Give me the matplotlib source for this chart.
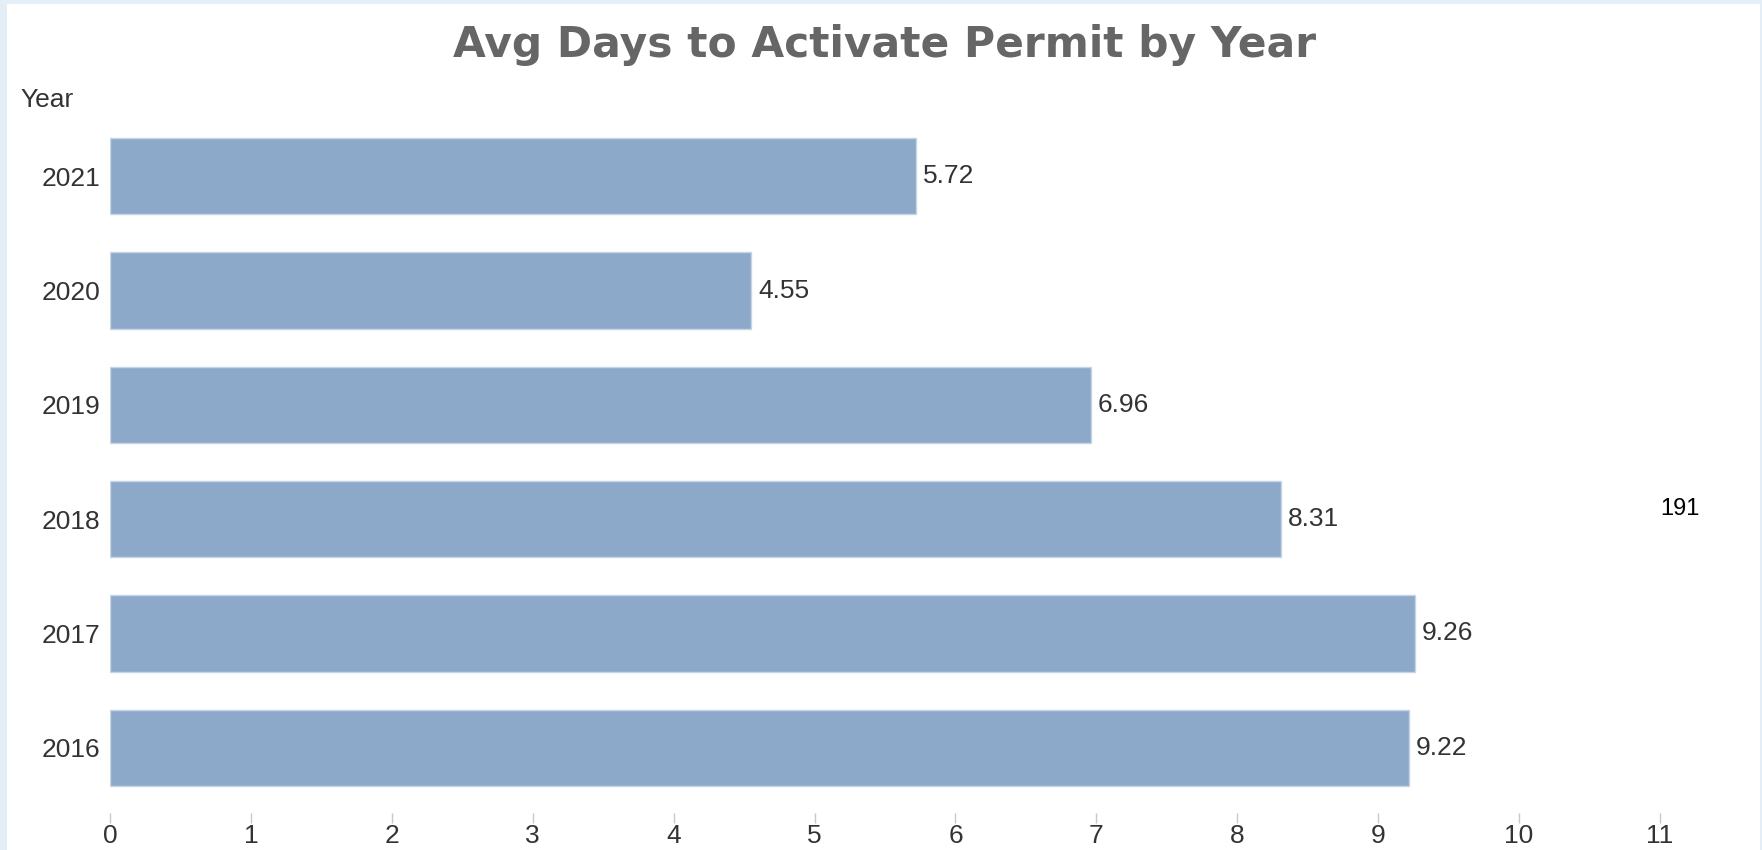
import matplotlib.pyplot as plt
from matplotlib.patches import Rectangle

# data
years = ["2016", "2017", "2018", "2019", "2020", "2021"]
avg_days = [9.22, 9.26, 8.31, 6.96, 4.55, 5.72]
x_ticks = list(range(0, 12))

W, H = 1762, 850
fig = plt.figure(figsize=(W / 100, H / 100), dpi=100)
fig.patch.set_facecolor("#e3eef6")
# white panel inside the light blue frame
fig.patches.append(Rectangle((7 / W, 0), (1760 - 7) / W, (H - 4) / H,
                             transform=fig.transFigure, facecolor="white",
                             edgecolor="none", zorder=0))

plt.rcParams["font.family"] = ["Liberation Sans", "DejaVu Sans"]

ax = fig.add_axes([110 / W, 45 / H, 1550 / W, 686 / H])
ax.set_facecolor("none")
ax.set_zorder(2)

pos = list(range(len(years)))
ax.barh(pos, avg_days, height=0.67, color="#8ca9c9",
        edgecolor="#c5d5e6", linewidth=1)
for p, v in zip(pos, avg_days):
    ax.text(v + 0.05, p, f"{v:.2f}", va="center", ha="left",
            fontsize=19, color="#333333")

ax.set_xlim(0, 11)
ax.set_ylim(-0.5, 5.5)
ax.set_xticks(x_ticks)
ax.set_yticks(pos)
ax.set_yticklabels(years)

for s in ax.spines.values():
    s.set_visible(False)
ax.spines["bottom"].set_position(("outward", 6))
ax.tick_params(axis="x", length=7, width=1, color="#c8c8c8", pad=0.5,
               labelsize=19, labelcolor="#333333")
ax.tick_params(axis="y", length=0, pad=7, labelsize=19, labelcolor="#333333")

fig.text(20 / W, 1 - 100 / H, "Year", fontsize=19, color="#333333",
         ha="left", va="center", zorder=3)
fig.text(885 / W, 1 - 45 / H, "Avg Days to Activate Permit by Year",
         fontsize=30.5, fontweight="bold", color="#666666",
         family="DejaVu Sans", ha="center", va="center", zorder=3)
fig.text(1680 / W, 1 - 509 / H, "191", fontsize=17, color="black",
         ha="center", va="center", zorder=3)

fig.savefig("out.png", dpi=100)
